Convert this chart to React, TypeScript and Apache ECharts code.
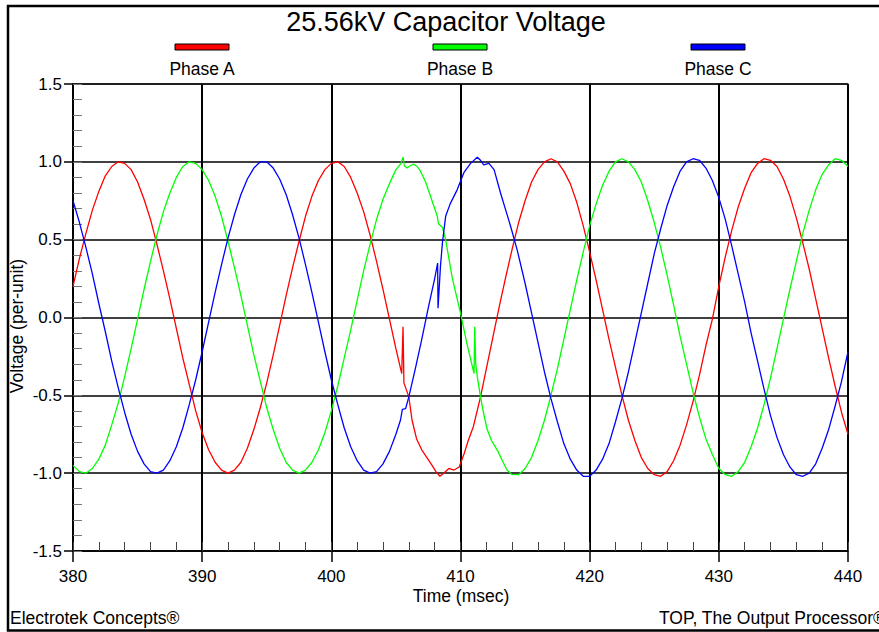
import React, { useEffect, useRef } from "react";
import * as echarts from "echarts";

// Time (msec) / voltage (per-unit) pairs
const phaseA: [number, number][] = [
  [380, 0.2], [380.5, 0.38], [381, 0.54], [381.5, 0.69], [382, 0.81], [382.5, 0.91], [383, 0.97], [383.5, 1.0],
  [384, 0.99], [384.5, 0.95], [385, 0.87], [385.5, 0.76], [386, 0.63], [386.5, 0.47], [387, 0.3], [387.5, 0.12],
  [388, -0.07], [388.5, -0.26], [389, -0.43], [389.5, -0.6], [390, -0.74], [390.5, -0.85], [391, -0.93], [391.5, -0.98],
  [392, -1.0], [392.5, -0.98], [393, -0.93], [393.5, -0.84], [394, -0.72], [394.5, -0.58], [395, -0.42], [395.5, -0.24],
  [396, -0.05], [396.5, 0.14], [397, 0.32], [397.5, 0.49], [398, 0.65], [398.5, 0.78], [399, 0.88], [399.5, 0.95],
  [400, 0.99], [400.5, 1.0], [401, 0.97], [401.5, 0.9], [402, 0.8], [402.5, 0.68], [403, 0.53], [403.5, 0.36],
  [404, 0.18], [404.5, -0.01], [405, -0.2],
  [405.45, -0.36], [405.55, -0.06], [405.62, -0.42], [406.0, -0.51], [406.25, -0.66], [406.6, -0.78], [407.0, -0.85],
  [407.4, -0.9], [407.8, -0.95], [408.1, -0.99], [408.4, -1.02], [408.7, -1.0], [409.1, -0.97], [409.5, -0.98],
  [409.9, -0.96], [410.3, -0.87], [410.6, -0.79], [411.0, -0.7], [411.55, -0.51], [412.0, -0.33], [412.5, -0.13],
  [413, 0.07], [413.5, 0.26], [414, 0.44], [414.5, 0.61], [415, 0.75], [415.5, 0.87], [416, 0.95], [416.5, 1.0],
  [417, 1.02], [417.5, 1.0], [418, 0.94], [418.5, 0.86], [419, 0.74], [419.5, 0.59], [420, 0.42], [420.5, 0.24],
  [421, 0.05], [421.5, -0.14], [422, -0.32], [422.5, -0.5], [423, -0.66], [423.5, -0.79], [424, -0.9], [424.5, -0.97],
  [425, -1.01], [425.5, -1.02], [426, -0.99], [426.5, -0.92], [427, -0.82], [427.5, -0.69], [428, -0.54], [428.5, -0.37],
  [429, -0.18], [429.5, -0.01], [430, 0.2], [430.5, 0.39], [431, 0.56], [431.5, 0.71], [432, 0.83], [432.5, 0.93],
  [433, 0.99], [433.5, 1.02], [434, 1.01], [434.5, 0.97], [435, 0.89], [435.5, 0.78], [436, 0.64], [436.5, 0.48],
  [437, 0.31], [437.5, 0.12], [438, -0.07], [438.5, -0.26], [439, -0.44], [439.5, -0.61], [440, -0.75],
];

const phaseB: [number, number][] = [
  [380, -0.95], [380.5, -0.99], [381, -1.0], [381.5, -0.97], [382, -0.91], [382.5, -0.82], [383, -0.69], [383.5, -0.55],
  [384, -0.38], [384.5, -0.2], [385, -0.01], [385.5, 0.18], [386, 0.36], [386.5, 0.53], [387, 0.68], [387.5, 0.8],
  [388, 0.9], [388.5, 0.97], [389, 1.0], [389.5, 0.99], [390, 0.95], [390.5, 0.88], [391, 0.78], [391.5, 0.65],
  [392, 0.49], [392.5, 0.32], [393, 0.14], [393.5, -0.05], [394, -0.24], [394.5, -0.41], [395, -0.58], [395.5, -0.72],
  [396, -0.84], [396.5, -0.93], [397, -0.98], [397.5, -1.0], [398, -0.98], [398.5, -0.93], [399, -0.85], [399.5, -0.74],
  [400, -0.6], [400.5, -0.44], [401, -0.26], [401.5, -0.08], [402, 0.11], [402.5, 0.3], [403, 0.47], [403.5, 0.63],
  [404, 0.76], [404.5, 0.86], [405, 0.95],
  [405.35, 0.985], [405.56, 1.03], [405.65, 0.975], [405.86, 0.96], [406.1, 0.975], [406.38, 0.985], [406.65, 0.97],
  [406.9, 0.94], [407.3, 0.87], [407.67, 0.78], [408.0, 0.7], [408.2, 0.65], [408.3, 0.6], [408.6, 0.58], [408.85, 0.5],
  [409.35, 0.26], [409.6, 0.17], [410.0, 0.03], [410.5, -0.17], [411.05, -0.36], [411.1, -0.06], [411.18, -0.3],
  [411.3, -0.38], [411.55, -0.51], [411.8, -0.62], [412.07, -0.72], [412.4, -0.79], [412.9, -0.86], [413.3, -0.93],
  [413.6, -0.98], [414, -1.01],
  [414.5, -1.01], [415, -0.97], [415.5, -0.9], [416, -0.79], [416.5, -0.66], [417, -0.5], [417.5, -0.33], [418, -0.14],
  [418.5, 0.05], [419, 0.24], [419.5, 0.42], [420, 0.59], [420.5, 0.73], [421, 0.85], [421.5, 0.94], [422, 1.0],
  [422.5, 1.02], [423, 1.0], [423.5, 0.95], [424, 0.87], [424.5, 0.75], [425, 0.61], [425.5, 0.45], [426, 0.27],
  [426.5, 0.08], [427, -0.12], [427.5, -0.3], [428, -0.48], [428.5, -0.64], [429, -0.78], [429.5, -0.88], [430, -0.97],
  [430.5, -1.01], [431, -1.02], [431.5, -0.99], [432, -0.93], [432.5, -0.83], [433, -0.71], [433.5, -0.56], [434, -0.39],
  [434.5, -0.2], [435, -0.01], [435.5, 0.18], [436, 0.36], [436.5, 0.54], [437, 0.69], [437.5, 0.82], [438, 0.92],
  [438.5, 0.98], [439, 1.02], [439.5, 1.01], [440, 0.97],
];

const phaseC: [number, number][] = [
  [380, 0.75], [380.5, 0.61], [381, 0.45], [381.5, 0.28], [382, 0.09], [382.5, -0.09], [383, -0.28], [383.5, -0.45],
  [384, -0.61], [384.5, -0.75], [385, -0.86], [385.5, -0.94], [386, -0.99], [386.5, -1.0], [387, -0.98], [387.5, -0.92],
  [388, -0.83], [388.5, -0.71], [389, -0.56], [389.5, -0.4], [390, -0.22], [390.5, -0.03], [391, 0.16], [391.5, 0.34],
  [392, 0.51], [392.5, 0.66], [393, 0.79], [393.5, 0.89], [394, 0.96], [394.5, 1.0], [395, 1.0], [395.5, 0.96],
  [396, 0.89], [396.5, 0.79], [397, 0.66], [397.5, 0.51], [398, 0.34], [398.5, 0.16], [399, -0.03], [399.5, -0.22],
  [400, -0.4], [400.5, -0.56], [401, -0.71], [401.5, -0.83], [402, -0.92], [402.5, -0.98], [403, -1.0], [403.5, -0.99],
  [404, -0.94], [404.5, -0.86], [405, -0.75],
  [405.35, -0.66], [405.5, -0.59], [405.75, -0.585], [406.0, -0.51], [406.5, -0.33], [407.0, -0.14], [407.5, 0.06],
  [408.0, 0.25], [408.23, 0.35], [408.26, 0.06], [408.45, 0.33], [408.6, 0.48], [408.85, 0.65], [409.2, 0.73],
  [409.74, 0.82], [410.26, 0.93], [410.78, 0.99], [411.3, 1.03], [411.55, 1.01], [411.8, 0.98], [412.2, 0.99],
  [412.6, 0.95], [413.1, 0.8], [413.5, 0.69], [413.9, 0.58], [414.4, 0.43],
  [415, 0.22], [415.5, 0.03], [416, -0.16], [416.5, -0.35], [417, -0.52], [417.5, -0.67], [418, -0.81], [418.5, -0.91],
  [419, -0.98], [419.5, -1.02], [420, -1.02], [420.5, -0.98], [421, -0.91], [421.5, -0.81], [422, -0.67], [422.5, -0.52],
  [423, -0.35], [423.5, -0.16], [424, 0.03], [424.5, 0.22], [425, 0.41], [425.5, 0.57], [426, 0.72], [426.5, 0.84],
  [427, 0.94], [427.5, 1.0], [428, 1.02], [428.5, 1.01], [429, 0.96], [429.5, 0.88], [430, 0.77], [430.5, 0.63],
  [431, 0.46], [431.5, 0.28], [432, 0.1], [432.5, -0.1], [433, -0.28], [433.5, -0.46], [434, -0.63], [434.5, -0.77],
  [435, -0.88], [435.5, -0.96], [436, -1.01], [436.5, -1.02], [437, -1.0], [437.5, -0.94], [438, -0.84], [438.5, -0.72],
  [439, -0.57], [439.5, -0.41], [440, -0.22],
];

const seriesNames = ["Phase A", "Phase B", "Phase C"];
const seriesColors = ["#ff0000", "#00ff00", "#0000ff"];
const xRange = [380, 440];
const yRange = [-1.5, 1.5];

const FONT = '"Liberation Sans", Arial, Helvetica, sans-serif';

export default function App() {
  const ref = useRef<HTMLDivElement>(null);

  useEffect(() => {
    if (!ref.current) return;
    const chart = echarts.init(ref.current, null, { renderer: "svg" });
    const datasets = [phaseA, phaseB, phaseC];
    const legendX = [202, 460, 718];

    const graphic: any[] = [
      {
        type: "rect",
        silent: true,
        shape: { x: 8, y: 6, width: 890, height: 624.5 },
        style: { fill: "none", stroke: "#000", lineWidth: 2.5 },
        z: 100,
      },
      {
        type: "text",
        x: 446,
        y: 22,
        style: {
          text: "25.56kV Capacitor Voltage",
          fontSize: 27,
          fontFamily: FONT,
          fill: "#000",
          align: "center",
          verticalAlign: "middle",
        },
      },
      {
        type: "text",
        x: 17,
        y: 326,
        rotation: Math.PI / 2,
        style: {
          text: "Voltage (per-unit)",
          fontSize: 17.5,
          fontFamily: FONT,
          fill: "#000",
          align: "center",
          verticalAlign: "middle",
        },
      },
      {
        type: "text",
        x: 461,
        y: 596,
        style: {
          text: "Time (msec)",
          fontSize: 17.5,
          fontFamily: FONT,
          fill: "#000",
          align: "center",
          verticalAlign: "middle",
        },
      },
      {
        type: "text",
        x: 10,
        y: 618,
        style: {
          text: "Electrotek Concepts®",
          fontSize: 17.5,
          fontFamily: FONT,
          fill: "#000",
          align: "left",
          verticalAlign: "middle",
        },
      },
      {
        type: "text",
        x: 659,
        y: 618,
        style: {
          text: "TOP, The Output Processor®",
          fontSize: 17.5,
          fontFamily: FONT,
          fill: "#000",
          align: "left",
          verticalAlign: "middle",
        },
      },
    ];
    seriesNames.forEach((name, i) => {
      graphic.push({
        type: "rect",
        shape: { x: legendX[i] - 27, y: 44, width: 54, height: 6 },
        style: { fill: seriesColors[i], stroke: "#000", lineWidth: 1 },
      });
      graphic.push({
        type: "text",
        x: legendX[i],
        y: 69,
        style: {
          text: name,
          fontSize: 17.5,
          fontFamily: FONT,
          fill: "#000",
          align: "center",
          verticalAlign: "middle",
        },
      });
    });

    chart.setOption({
      animation: false,
      backgroundColor: "#ffffff",
      textStyle: { fontFamily: FONT },
      grid: {
        left: 73,
        top: 84,
        right: 31,
        bottom: 81,
        show: true,
        borderColor: "#000",
        borderWidth: 1.2,
        backgroundColor: "transparent",
      },
      xAxis: [
        {
          type: "value",
          min: xRange[0],
          max: xRange[1],
          interval: 10,
          position: "bottom",
          axisLine: { show: true, onZero: false, lineStyle: { color: "#000", width: 1.5 } },
          axisTick: { show: true, inside: false, length: 11, lineStyle: { color: "#000", width: 1.5 } },
          axisLabel: { color: "#000", fontSize: 17, fontFamily: FONT, margin: 17 },
          splitLine: { show: true, lineStyle: { color: "#000", width: 2 } },
        },
        {
          type: "value",
          min: xRange[0],
          max: xRange[1],
          interval: 2,
          position: "bottom",
          axisLine: { show: false, onZero: false },
          axisTick: { show: true, inside: true, length: 9, lineStyle: { color: "#444", width: 1 } },
          axisLabel: { show: false },
          splitLine: { show: false },
        },
      ],
      yAxis: [
        {
          type: "value",
          min: yRange[0],
          max: yRange[1],
          interval: 0.5,
          position: "left",
          axisLine: { show: true, onZero: false, lineStyle: { color: "#000", width: 1.5 } },
          axisTick: { show: true, inside: false, length: 9, lineStyle: { color: "#000", width: 1.5 } },
          axisLabel: {
            color: "#000",
            fontSize: 17,
            fontFamily: FONT,
            margin: 11,
            formatter: (v: number) => v.toFixed(1),
          },
          splitLine: { show: true, lineStyle: { color: "#000", width: 1.5 } },
        },
        {
          type: "value",
          min: yRange[0],
          max: yRange[1],
          interval: 0.1,
          position: "left",
          axisLine: { show: false, onZero: false },
          axisTick: { show: true, inside: true, length: 9, lineStyle: { color: "#777", width: 1 } },
          axisLabel: { show: false },
          splitLine: { show: false },
        },
      ],
      series: datasets.map((d, i) => ({
        name: seriesNames[i],
        type: "line",
        xAxisIndex: 0,
        yAxisIndex: 0,
        data: d,
        showSymbol: false,
        symbol: "none",
        lineStyle: { color: seriesColors[i], width: 1.3 },
        itemStyle: { color: seriesColors[i] },
        silent: true,
      })),
      graphic,
    });

    return () => chart.dispose();
  }, []);

  return (
    <div
      ref={ref}
      style={{ position: "fixed", left: 0, top: 0, width: 879, height: 632, background: "#fff" }}
    />
  );
}
